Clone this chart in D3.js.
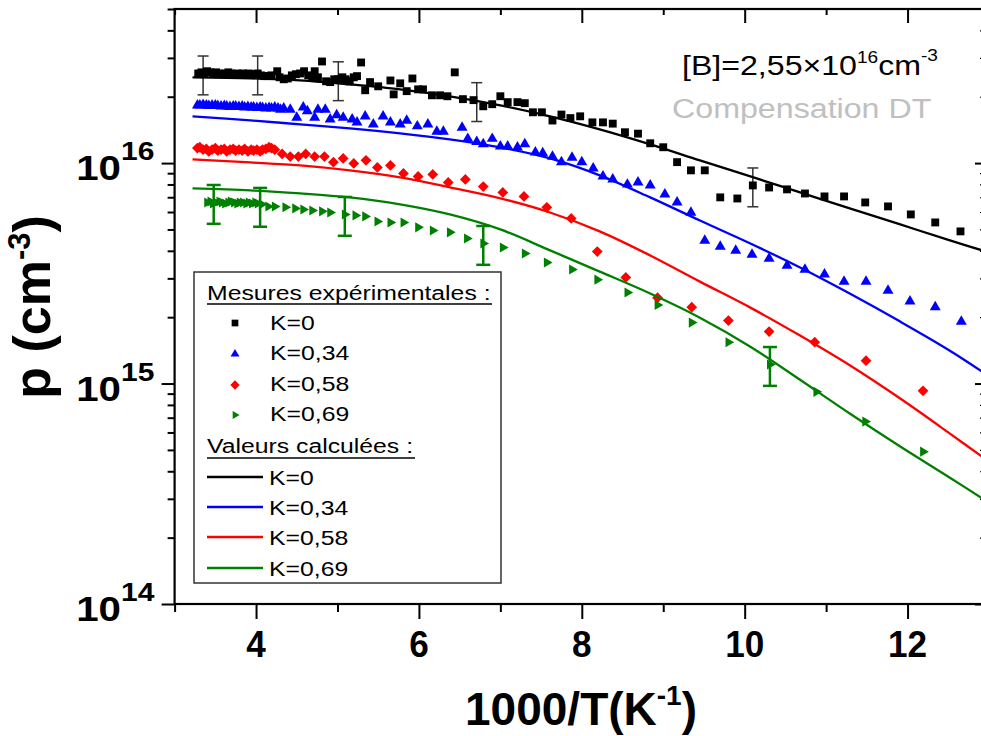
<!DOCTYPE html>
<html><head><meta charset="utf-8">
<script src="https://cdn.jsdelivr.net/npm/d3@7/dist/d3.min.js"></script>
<style>
body{margin:0;background:#fff}
svg{display:block}
text{font-family:"Liberation Sans",Arial,Helvetica,sans-serif}
</style>
</head><body>
<svg id="c" width="981" height="736"></svg>
<script>
// ---------- DATA (p values in units of 1e16 cm^-3, x = 1000/T in K^-1) ----------
const UNIT = 1e16;
const xTicksMajor = [4, 6, 8, 10, 12];
const xTicksMinor = [3, 5, 7, 9, 11, 13];
const yTicksMajor = [1e14, 1e15, 1e16];
const yTickExp = ["14", "15", "16"];
const yTicksMinor = [2e14,3e14,4e14,5e14,6e14,7e14,8e14,9e14,2e15,3e15,4e15,5e15,6e15,7e15,8e15,9e15,2e16,3e16,4e16,5e16];

const seriesNames = ["K=0", "K=0,34", "K=0,58", "K=0,69"];
const seriesColors = ["#000000", "#0000ff", "#ff0000", "#008000"];

// measured (Mesures expérimentales)
const mesK0 = [[3.29,2.55],[3.33,2.58],[3.36,2.55],[3.40,2.61],[3.44,2.58],[3.47,2.55],[3.51,2.58],[3.55,2.55],[3.58,2.53],[3.62,2.55],[3.66,2.58],[3.69,2.55],[3.73,2.53],[3.77,2.55],[3.80,2.53],[3.84,2.55],[3.88,2.53],[3.91,2.55],[3.95,2.53],[3.99,2.53],[4.02,2.55],[4.06,2.50],[4.10,2.48],[4.14,2.48],[4.19,2.50],
[4.26,2.61],[4.29,2.45],[4.34,2.40],[4.39,2.42],[4.44,2.50],[4.49,2.53],[4.54,2.55],[4.59,2.61],[4.64,2.50],[4.69,2.45],[4.72,2.61],[4.76,2.45],[4.81,2.89],[4.86,2.35],[4.91,2.33],[4.96,2.40],[5.01,2.40],[5.06,2.45],[5.10,2.40],[5.15,2.35],[5.20,2.45],[5.24,2.48],[5.29,2.86],[5.34,2.14],[5.40,2.33],[5.50,2.23],[5.65,2.37],[5.69,2.05],[5.77,2.30],[5.85,2.12],[5.92,2.42],[5.99,2.16],[6.05,2.16],[6.16,2.03],[6.26,2.03],[6.35,2.01],[6.44,2.58],[6.54,1.95],[6.67,1.93],[6.79,1.81],[6.90,1.85],[7.00,2.01],[7.09,1.89],[7.21,1.89],[7.30,1.87],[7.40,1.70],[7.51,1.70],[7.64,1.56],[7.75,1.66],[7.86,1.60],[7.98,1.63],[8.13,1.53],[8.26,1.53],[8.38,1.51],[8.53,1.38],[8.69,1.36],[8.84,1.23],[9.00,1.18],[9.17,1.01],[9.34,0.927],[9.51,0.927],[9.70,0.699],[9.91,0.691],[10.10,0.792],[10.30,0.775],[10.52,0.760],[10.74,0.728],[10.98,0.706],[11.22,0.706],[11.48,0.663],[11.76,0.636],[12.04,0.585],[12.34,0.538],[12.65,0.490]];

const mesK034 = [[3.28,1.83],[3.31,1.83],[3.35,1.84],[3.39,1.83],[3.42,1.82],[3.46,1.83],[3.50,1.83],[3.53,1.82],[3.57,1.81],[3.61,1.82],[3.64,1.81],[3.68,1.80],[3.72,1.81],[3.75,1.81],[3.79,1.80],[3.83,1.81],[3.86,1.79],[3.90,1.80],[3.94,1.79],[3.97,1.79],[4.01,1.78],[4.05,1.79],[4.08,1.78],[4.12,1.77],[4.16,1.78],[4.19,1.77],[4.23,1.79],[4.27,1.77],[4.30,1.75],[4.34,1.77],
[4.42,1.75],[4.50,1.61],[4.58,1.79],[4.63,1.72],[4.72,1.61],[4.76,1.75],[4.85,1.75],[4.91,1.58],[4.99,1.65],[5.07,1.61],[5.18,1.58],[5.24,1.53],[5.34,1.63],[5.44,1.50],[5.56,1.63],[5.65,1.53],[5.77,1.50],[5.85,1.56],[5.98,1.47],[6.11,1.50],[6.22,1.39],[6.30,1.39],[6.53,1.45],[6.60,1.29],[6.71,1.25],[6.79,1.22],[6.90,1.29],[7.00,1.19],[7.09,1.19],[7.21,1.18],[7.30,1.22],[7.43,1.12],[7.52,1.11],[7.64,1.07],[7.75,1.01],[7.88,1.06],[8.00,1.01],[8.14,0.946],[8.26,0.870],[8.38,0.843],[8.56,0.800],[8.69,0.817],[8.84,0.792],[9.02,0.721],[9.17,0.663],[9.34,0.597],[9.51,0.445],[9.70,0.418],[9.89,0.401],[10.09,0.385],[10.30,0.369],[10.52,0.343],[10.74,0.329],[10.98,0.313],[11.22,0.290],[11.49,0.290],[11.76,0.264],[12.03,0.236],[12.34,0.222],[12.66,0.191]];

const mesK058 = [[3.28,1.17],[3.31,1.18],[3.35,1.15],[3.39,1.16],[3.42,1.13],[3.46,1.15],[3.50,1.17],[3.53,1.14],[3.57,1.15],[3.61,1.16],[3.64,1.13],[3.68,1.15],[3.72,1.16],[3.75,1.14],[3.79,1.15],[3.83,1.14],[3.86,1.16],[3.90,1.13],[3.94,1.15],[3.97,1.14],[4.01,1.15],[4.05,1.13],[4.08,1.15],[4.12,1.16],[4.16,1.18],[4.19,1.17],[4.23,1.15],[4.32,1.10],
[4.42,1.07],[4.52,1.07],[4.61,1.10],[4.72,1.07],[4.84,1.07],[4.95,1.01],[5.07,1.05],[5.20,0.997],[5.35,1.03],[5.49,0.956],[5.65,0.976],[5.81,0.898],[5.99,0.870],[6.17,0.888],[6.36,0.817],[6.57,0.843],[6.79,0.783],[7.03,0.736],[7.29,0.706],[7.57,0.630],[7.87,0.561],[8.19,0.397],[8.54,0.303],[8.93,0.245],[9.35,0.222],[9.80,0.193],[10.30,0.172],[10.86,0.154],[11.49,0.127],[12.19,0.0927]];

const mesK069 = [[3.40,0.663],[3.44,0.670],[3.47,0.656],[3.51,0.663],[3.55,0.670],[3.58,0.663],[3.62,0.656],[3.66,0.663],[3.69,0.670],[3.73,0.663],[3.77,0.656],[3.80,0.663],[3.84,0.663],[3.88,0.656],[3.91,0.663],[3.95,0.656],[3.99,0.663],[4.02,0.656],
[4.07,0.650],[4.15,0.636],[4.23,0.636],[4.36,0.630],[4.48,0.623],[4.58,0.616],[4.69,0.610],[4.81,0.604],[4.91,0.597],[5.09,0.585],[5.22,0.579],[5.34,0.573],[5.49,0.543],[5.65,0.538],[5.81,0.538],[5.99,0.511],[6.17,0.495],[6.38,0.485],[6.59,0.455],[6.79,0.432],[7.03,0.414],[7.30,0.389],[7.57,0.354],[7.88,0.329],[8.19,0.296],[8.56,0.259],[8.93,0.227],[9.35,0.189],[9.80,0.154],[10.31,0.122],[10.88,0.0917],[11.48,0.0672],[12.19,0.0491]];

// error bars (±20 %)
const errRel = 0.2;
const errK0 = [[3.35,2.55],[4.02,2.55],[5.01,2.40],[6.71,1.93],[10.10,0.792]];
const errK069 = [[3.48,0.663],[4.05,0.643],[5.09,0.585],[6.79,0.432],[10.31,0.122]];

// calculated (Valeurs calculées)
const calcX = [3.22,3.93,4.54,5.15,5.77,6.38,7.00,7.61,8.22,8.84,9.45,10.07,10.68,11.29,11.91,12.52,13.0];
const calcK0 = [2.449,2.424,2.374,2.276,2.160,2.008,1.827,1.629,1.422,1.216,1.029,0.870,0.736,0.623,0.527,0.446,0.393];
const calcK034 = [1.629,1.562,1.499,1.437,1.364,1.281,1.178,1.050,0.880,0.699,0.549,0.432,0.336,0.256,0.191,0.141,0.108];
const calcK058 = [1.039,1.007,0.976,0.927,0.861,0.776,0.692,0.597,0.490,0.381,0.290,0.221,0.165,0.121,0.0855,0.0593,0.0442];
const calcK069 = [0.768,0.752,0.729,0.699,0.650,0.585,0.500,0.402,0.322,0.256,0.199,0.147,0.104,0.0731,0.0518,0.0374,0.0288];

// ---------- LAYOUT ----------
const svg = d3.select("#c");
const L = 174.6, R = 989, T = 9, B = 604;
const x = d3.scaleLinear().domain([3, 13]).range([L, R]);
const y = d3.scaleLog().domain([1e14, 5e16]).range([B, T]);

svg.append("defs").append("clipPath").attr("id","clip")
  .append("rect").attr("x",L).attr("y",T).attr("width",R-L).attr("height",B-T);

function cleanAxis(g, w){
  g.select(".domain").remove();
  g.selectAll(".tick line").attr("stroke","#000").attr("stroke-width",w||2);
  g.selectAll(".tick text").remove();
}
svg.append("g").attr("transform",`translate(0,${B})`)
  .call(d3.axisBottom(x).tickValues(xTicksMajor).tickSize(15).tickFormat(()=>"")).call(cleanAxis);
svg.append("g").attr("transform",`translate(0,${B})`)
  .call(d3.axisBottom(x).tickValues(xTicksMinor).tickSize(8).tickFormat(()=>"")).call(cleanAxis);
svg.append("g").attr("transform",`translate(0,${T})`)
  .call(d3.axisTop(x).tickValues(xTicksMajor).tickSize(-14).tickFormat(()=>"")).call(cleanAxis);
svg.append("g").attr("transform",`translate(0,${T})`)
  .call(d3.axisTop(x).tickValues(xTicksMinor).tickSize(-6).tickFormat(()=>"")).call(cleanAxis);
svg.append("g").attr("transform",`translate(${L},0)`)
  .call(d3.axisLeft(y).tickValues(yTicksMajor).tickSize(13).tickFormat(()=>"")).call(cleanAxis);
svg.append("g").attr("transform",`translate(${L},0)`)
  .call(d3.axisLeft(y).tickValues(yTicksMinor).tickSize(7).tickFormat(()=>"")).call(cleanAxis);
svg.append("g").attr("transform",`translate(${R},0)`)
  .call(d3.axisRight(y).tickValues(yTicksMajor).tickSize(-14).tickFormat(()=>"")).call(cleanAxis);
svg.append("g").attr("transform",`translate(${R},0)`)
  .call(d3.axisRight(y).tickValues(yTicksMinor).tickSize(-9).tickFormat(()=>"")).call(g=>cleanAxis(g,1.2));

svg.append("rect").attr("x",L).attr("y",T).attr("width",R-L).attr("height",B-T)
  .attr("fill","none").attr("stroke","#000").attr("stroke-width",2.2);

xTicksMajor.forEach(v=>{
  svg.append("text").attr("transform",`translate(${x(v)},657) scale(0.95,1)`)
    .attr("text-anchor","middle").attr("font-size",37).attr("font-weight","bold").text(v);
});
yTicksMajor.forEach((v,i)=>{
  svg.append("text").attr("transform",`translate(121,${y(v)+17}) scale(1.15,1)`)
    .attr("text-anchor","end").attr("font-size",35).attr("font-weight","bold").text("10");
  svg.append("text").attr("transform",`translate(121,${y(v)-3}) scale(1.2,1)`)
    .attr("font-size",25).attr("font-weight","bold").text(yTickExp[i]);
});

const xt = svg.append("text").attr("transform","translate(581,725)").attr("text-anchor","middle")
  .attr("font-size",46).attr("font-weight","bold");
xt.append("tspan").text("1000/T(K");
xt.append("tspan").attr("font-size",28).attr("dy",-20).text("-1");
xt.append("tspan").attr("dy",20).text(")");

const yt = svg.append("text").attr("transform","translate(50,307) rotate(-90)").attr("text-anchor","middle")
  .attr("font-size",52).attr("font-weight","bold");
yt.append("tspan").text("p (cm");
yt.append("tspan").attr("font-size",31).attr("dy",-20).text("-3");
yt.append("tspan").attr("dy",20).text(")");

// ---------- MARKS ----------
const symSq = d3.symbol().type(d3.symbolSquare);
const symTri = d3.symbol().type(d3.symbolTriangle);
function markerPath(i, big){
  if(i===0) return {d: symSq.size(big?62:45)(), rot:0};
  if(i===1) return {d: symTri.size(big?52:34)(), rot:0};
  if(i===2) return {d: symSq.size(big?58:44)(), rot:45};
  return {d: symTri.size(big?44:28)(), rot:90};
}
const mesAll = [mesK0, mesK034, mesK058, mesK069];
const calcAll = [calcK0, calcK034, calcK058, calcK069];

function drawErr(data, color, w, cap){
  const g = svg.append("g").attr("stroke",color).attr("stroke-width",w).attr("fill","none");
  data.forEach(([xv,pv])=>{
    const cx = x(xv), y1 = y(pv*UNIT*(1+errRel)), y2 = y(pv*UNIT*(1-errRel));
    g.append("line").attr("x1",cx).attr("x2",cx).attr("y1",y1).attr("y2",y2);
    g.append("line").attr("x1",cx-cap).attr("x2",cx+cap).attr("y1",y1).attr("y2",y1);
    g.append("line").attr("x1",cx-cap).attr("x2",cx+cap).attr("y1",y2).attr("y2",y2);
  });
}
drawErr(errK0, "#333333", 1.5, 5.5);
drawErr(errK069, "#008000", 2.5, 7);

mesAll.forEach((data,i)=>{
  const m = markerPath(i,true);
  svg.append("g").selectAll("path").data(data).join("path")
    .attr("d", m.d).attr("fill", seriesColors[i])
    .attr("transform", d=>`translate(${x(d[0])},${y(d[1]*UNIT)}) rotate(${m.rot})`);
});

const line = d3.line().x(d=>x(d[0])).y(d=>y(d[1]*UNIT)).curve(d3.curveCatmullRom.alpha(0.5));
const cg = svg.append("g").attr("clip-path","url(#clip)");
calcAll.forEach((vals,i)=>{
  const pts = calcX.map((xv,j)=>[xv, vals[j]]);
  cg.append("path").attr("d", line(pts)).attr("fill","none")
    .attr("stroke", seriesColors[i]).attr("stroke-width",2.3);
});

// ---------- LEGEND ----------
const lg = svg.append("g");
lg.append("rect").attr("x",194).attr("y",272).attr("width",307).attr("height",311)
  .attr("fill","#fff").attr("stroke","#333").attr("stroke-width",1.5);
function ltext(tx, ty, str){
  return lg.append("text").attr("transform",`translate(${tx},${ty}) scale(1.18,1)`)
    .attr("font-size",21).text(str);
}
ltext(207,300,"Mesures expérimentales :");
lg.append("line").attr("x1",207).attr("x2",492).attr("y1",304).attr("y2",304).attr("stroke","#000").attr("stroke-width",1.3);
const symY = [323,354,385,415];
const txtY = [330,360,391,421];
seriesNames.forEach((n,i)=>{
  const m = markerPath(i,false);
  lg.append("path").attr("d",m.d).attr("fill",seriesColors[i])
    .attr("transform",`translate(235,${symY[i]}) rotate(${m.rot})`);
  ltext(270, txtY[i], n);
});
ltext(207,453,"Valeurs calculées :");
lg.append("line").attr("x1",207).attr("x2",415).attr("y1",458).attr("y2",458).attr("stroke","#000").attr("stroke-width",1.3);
const lineY = [477,507,537,568];
seriesNames.forEach((n,i)=>{
  lg.append("line").attr("x1",207).attr("x2",263).attr("y1",lineY[i]).attr("y2",lineY[i])
    .attr("stroke",seriesColors[i]).attr("stroke-width",2.3);
  ltext(269, lineY[i]+8, n);
});

// ---------- ANNOTATIONS ----------
const an = svg.append("text").attr("transform","translate(682,75) scale(1.19,1)").attr("font-size",27);
an.append("tspan").text("[B]=2,55×10");
an.append("tspan").attr("font-size",16).attr("dy",-12).text("16");
an.append("tspan").attr("dy",12).text("cm");
an.append("tspan").attr("font-size",16).attr("dy",-14).text("-3");
svg.append("text").attr("transform","translate(672,118) scale(1.15,1)").attr("font-size",28)
  .attr("fill","#c0c0c0").text("Compensation DT");
</script>
</body></html>
